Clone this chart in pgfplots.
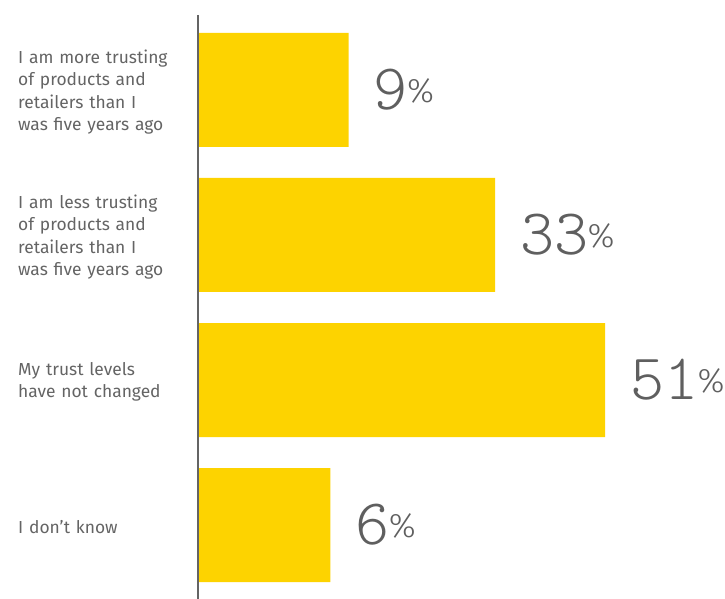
\documentclass[border=0pt]{standalone}
\usepackage{fontspec}
\setmainfont{Fira Sans}
\newfontfamily\numfont{Latin Modern Mono Light}
\newfontfamily\pctfont{Fira Sans Light}
\usepackage{pgfplots}
\pgfplotsset{compat=1.18}
\usepackage{pgfplotstable}
\definecolor{baryellow}{RGB}{253,211,0}
\definecolor{labelgray}{RGB}{100,100,100}
\definecolor{numgray}{RGB}{95,95,95}
\definecolor{axisgray}{RGB}{100,100,100}

\pgfplotstableread[col sep=comma]{
cat,value
0,9
1,33
2,51
3,6
}\datatable

\begin{document}
\begin{tikzpicture}
\begin{axis}[
  at={(0,0)}, anchor=south west,
  scale only axis, width=527pt, height=584pt,
  xbar, bar width=114pt,
  xmin=0, xmax=86.35,
  ymin=-0.517, ymax=3.51, y dir=reverse,
  axis x line=none, axis y line=left,
  y axis line style={-, draw=axisgray, line width=2pt},
  axis on top,
  ytick={0,1,2,3},
  yticklabels={
    {I am more trusting\\of products and\\retailers than I\\was five years ago},
    {I am less trusting\\of products and\\retailers than I\\was five years ago},
    {My trust levels\\have not changed},
    {I don’t know}},
  major tick length=0pt,
  ytick style={draw=none},
  yticklabel style={anchor=west, xshift=-180pt, yshift=-2pt, text width=176pt, align=left,
    inner sep=0pt, font=\fontsize{17.4}{22.6}\selectfont, text=labelgray},
  clip=false,
  nodes near coords={\numfont\pgfplotspointmeta\kern-1pt{\pctfont\fontsize{34}{34}\selectfont\raisebox{7pt}{\%}}},
  point meta=explicit symbolic,
  every node near coord/.append style={anchor=west, xshift=25pt, inner sep=0pt,
    text=numgray, font=\fontsize{65}{65}\selectfont},
]
\addplot[fill=baryellow, draw=none] table[x expr=\thisrow{value}+15.7, y=cat, meta=value] {\datatable};
\end{axis}
\pgfresetboundingbox
\path[use as bounding box] (-198pt,0pt) rectangle (527pt,599pt);
\end{tikzpicture}
\end{document}
